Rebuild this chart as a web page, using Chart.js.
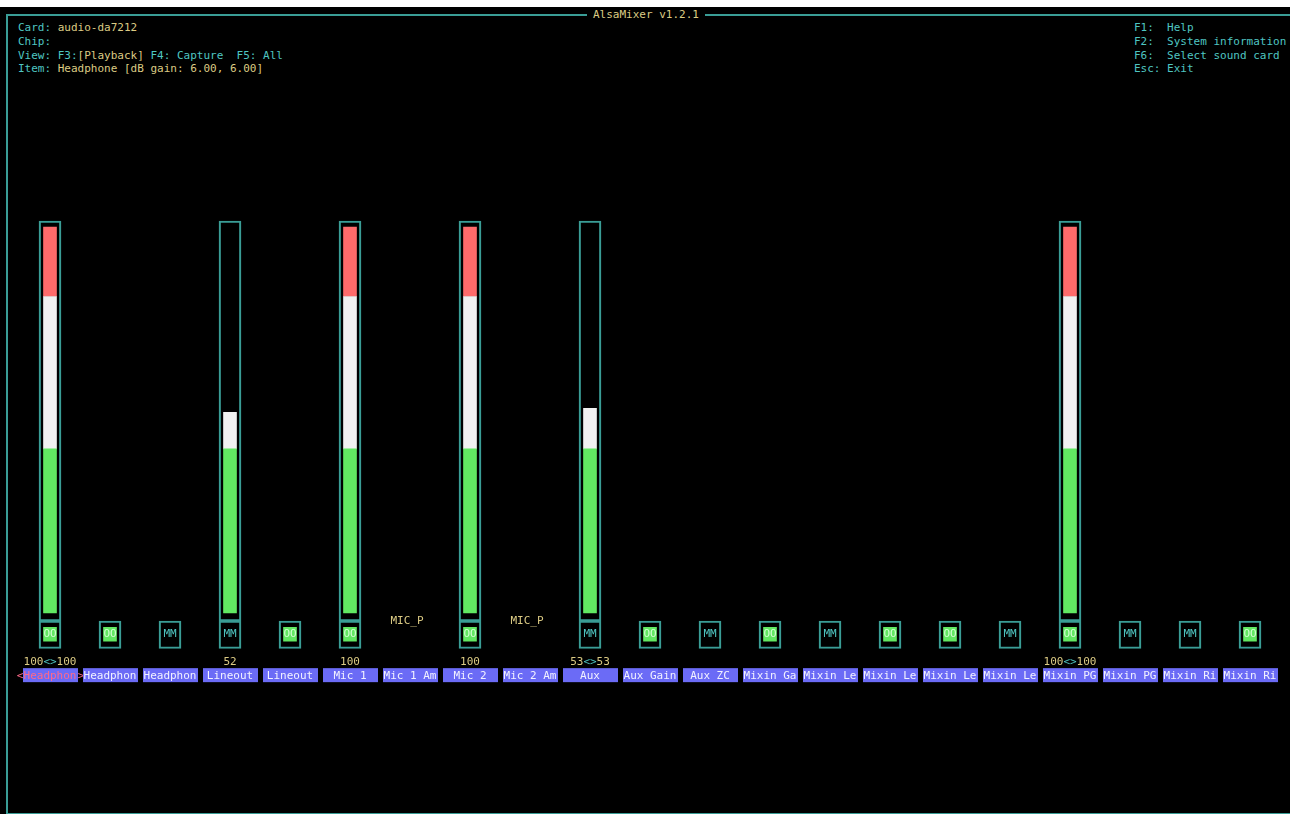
<!DOCTYPE html>
<html lang="en">
<head>
<meta charset="UTF-8">
<title>AlsaMixer v1.2.1</title>
<script src="https://cdn.jsdelivr.net/npm/chart.js"></script>
<style>
body {
    margin: 0;
    background: #000;
    width: 1290px;
    height: 814px;
    overflow: hidden;
    position: relative;
    font-family: "DejaVu Sans Mono", monospace;
    font-size: 11px;
}
#strip { position: absolute; left: 0; top: 0; width: 1290px; height: 7px; background: #fff; }
#frame {
    position: absolute; left: 6px; top: 14px; width: 1310px; height: 797px;
    border-left: 2px solid #3a9d96; border-top: 2px solid #3a9d96; border-bottom: 2px solid #3a9d96;
}
#title {
    position: absolute; left: 587px; top: 8px; background: #000; color: #dccb84;
    padding: 0 6px; line-height: 13px; white-space: pre;
}
.info { position: absolute; top: 21px; line-height: 13.8px; white-space: pre; color: #4fc6c2; }
.y { color: #dccb84; }
#chart { position: absolute; left: 0; top: 0; }
</style>
</head>
<body>
<div id="strip"></div>
<div id="frame"></div>
<div id="title">AlsaMixer v1.2.1</div>
<div class="info" style="left:18px">Card: <span class="y">audio-da7212</span>
Chip:
View: F3:<span class="y">[Playback]</span> F4: Capture  F5: All
Item: <span class="y">Headphone [dB gain: 6.00, 6.00]</span></div>
<div class="info" style="left:1134px">F1:  Help
F2:  System information
F6:  Select sound card
Esc: Exit</div>
<canvas id="chart" width="1290" height="814"></canvas>

<script>
// controls, left to right
const channels = ["Headphon", "Headphon", "Headphon", "Lineout", "Lineout", "Mic 1", "Mic 1 Am",
    "Mic 2", "Mic 2 Am", "Aux", "Aux Gain", "Aux ZC", "Mixin Ga", "Mixin Le", "Mixin Le",
    "Mixin Le", "Mixin Le", "Mixin PG", "Mixin PG", "Mixin Ri", "Mixin Ri"];
const levels = [100, null, null, 52, null, 100, null, 100, null, 53, null,
    null, null, null, null, null, null, 100, null, null, null];
const levelText = ["100<>100", "", "", "52", "", "100", "", "100", "", "53<>53", "",
    "", "", "", "", "", "", "100<>100", "", "", ""];
const switches = ["OO", "OO", "MM", "MM", "OO", "OO", null, "OO", null, "MM", "OO",
    "MM", "OO", "MM", "OO", "OO", "MM", "OO", "MM", "MM", "OO"];
const enums = [null, null, null, null, null, null, "MIC_P", null, "MIC_P", null, null,
    null, null, null, null, null, null, null, null, null, null];
const selected = 0;

// colour bands of the level meter
const greenTop = 42.5;
const whiteTop = 82;

const teal = "#3a9d96";
const cyan = "#4fc6c2";
const yellow = "#dccb84";
const green = "#62e862";
const mono = '11px "DejaVu Sans Mono", monospace';

function seg(lo, hi) {
    return levels.map(v => (v == null || v <= lo) ? null : [lo, Math.min(v, hi)]);
}

const labelsPlugin = {
    id: "labels",
    afterDatasetsDraw(chart) {
        const ctx = chart.ctx;
        const xs = chart.scales.x;
        const ys = chart.scales.y;
        ctx.save();
        ctx.font = mono;
        ctx.textBaseline = "middle";
        ctx.textAlign = "center";
        channels.forEach((name, i) => {
            const x = xs.getPixelForValue(i);
            // mute switch text
            if (switches[i]) {
                ctx.fillStyle = switches[i] === "OO" ? "#d4ffd4" : cyan;
                ctx.fillText(switches[i], x, ys.getPixelForValue(-5.5));
            }
            if (enums[i]) {
                ctx.fillStyle = yellow;
                ctx.fillText(enums[i], x - 3, ys.getPixelForValue(-2));
            }
            // value text, "<>" in cyan
            if (levelText[i]) {
                const parts = levelText[i].split("<>");
                const pieces = [];
                parts.forEach((p, k) => {
                    if (k > 0) pieces.push(["<>", cyan]);
                    pieces.push([p, yellow]);
                });
                const total = ctx.measureText(levelText[i]).width;
                let px = x - total / 2;
                ctx.textAlign = "left";
                pieces.forEach(([t, c]) => {
                    ctx.fillStyle = c;
                    ctx.fillText(t, px, ys.getPixelForValue(-12.7));
                    px += ctx.measureText(t).width;
                });
                ctx.textAlign = "center";
            }
            // channel name on blue
            const ty = ys.getPixelForValue(-16.1);
            ctx.fillStyle = "#6b6bf6";
            ctx.fillRect(x - 27, ty - 7, 55, 14);
            ctx.fillStyle = i === selected ? "#ff6a8a" : "#f2f2ff";
            ctx.fillText(name, x, ty + 1);
            if (i === selected) {
                ctx.fillText("<", x - 30, ty + 1);
                ctx.fillText(">", x + 31, ty + 1);
            }
        });
        ctx.restore();
    }
};

const common = { grouped: false, borderSkipped: false };

new Chart(document.getElementById("chart"), {
    type: "bar",
    data: {
        labels: channels,
        datasets: [
            Object.assign({ data: levels.map(v => v == null ? null : [-2.07, 101.55]),
                backgroundColor: "transparent", borderColor: teal, borderWidth: 1.5, barThickness: 22 }, common),
            Object.assign({ data: switches.map(s => s ? [-9.2, -2.07] : null),
                backgroundColor: "transparent", borderColor: teal, borderWidth: 1.5, barThickness: 22 }, common),
            Object.assign({ data: switches.map(s => s === "OO" ? [-7.3, -3.7] : null),
                backgroundColor: green, borderWidth: 0, barThickness: 13 }, common),
            Object.assign({ data: seg(0, greenTop), backgroundColor: green, borderWidth: 0, barThickness: 13 }, common),
            Object.assign({ data: seg(greenTop, whiteTop), backgroundColor: "#f1f1f1", borderWidth: 0, barThickness: 13 }, common),
            Object.assign({ data: seg(whiteTop, 100), backgroundColor: "#ff6b6b", borderWidth: 0, barThickness: 13 }, common)
        ]
    },
    options: {
        responsive: false,
        animation: false,
        events: [],
        layout: { padding: { left: 20, right: 10, top: 215.4, bottom: 162.4 } },
        plugins: { legend: { display: false }, tooltip: { enabled: false } },
        scales: {
            x: { display: false },
            y: { display: false, min: -10, max: 103 }
        }
    },
    plugins: [labelsPlugin]
});
</script>
</body>
</html>
